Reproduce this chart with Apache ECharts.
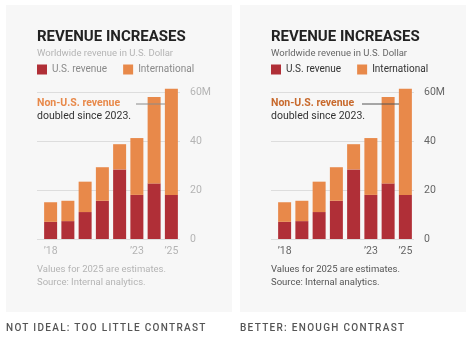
<!DOCTYPE html>
<html>
<head>
<meta charset="utf-8">
<script src="https://cdn.jsdelivr.net/npm/echarts@6/dist/echarts.min.js"></script>
<style>
  html, body { margin: 0; padding: 0; background: #ffffff; }
  #wrap { position: relative; width: 474px; height: 338px; }
  #chart { position: absolute; left: 0; top: 0; width: 474px; height: 338px; }
  .cap { position: absolute; top: 321.5px; font-family: Roboto, sans-serif; font-size: 10px; font-weight: 500; letter-spacing: 1.3px; color: #555; white-space: nowrap; }
</style>
</head>
<body>
<div id="wrap">
  <div id="chart"></div>
  <div class="cap" id="capL" style="left:6px;"></div>
  <div class="cap" id="capR" style="left:240px;"></div>
</div>
<script>
const years = ['2018', '2019', '2020', '2021', '2022', '2023', '2024', '2025'];
const usRevenue = [7, 7.3, 11, 15.6, 28.4, 18, 22.7, 18];
const intlRevenue = [8, 8.3, 12.4, 13.7, 10.3, 23.2, 35.3, 43.3];
const shownYears = ['2018', '2023', '2025'];
const yTicks = [0, 20, 40, 60];
const seriesNames = ['U.S. revenue', 'International'];
const titleText = 'REVENUE INCREASES';
const subtitleText = 'Worldwide revenue in U.S. Dollar';
const noteBold = 'Non-U.S. revenue';
const noteRest = 'doubled since 2023.';
const footText = 'Values for 2025 are estimates.\nSource: Internal analytics.';
const captions = ['NOT IDEAL: TOO LITTLE CONTRAST', 'BETTER: ENOUGH CONTRAST'];

document.getElementById('capL').textContent = captions[0];
document.getElementById('capR').textContent = captions[1];

const FONT = 'Roboto, sans-serif';
const panels = [
  { dx: 0, sub: '#b4b4b4', legend: '#8a8a8a', note: '#e8894a', axis: '#b4b4b4', foot: '#b4b4b4', pointer: '#8a8a8a' },
  { dx: 234, sub: '#666666', legend: '#333333', note: '#c8692c', axis: '#666666', foot: '#555555', pointer: '#555555' }
];

const option = {
  backgroundColor: '#ffffff',
  animation: false,
  title: [], legend: [], grid: [], xAxis: [], yAxis: [], series: [],
  graphic: []
};

panels.forEach((p, i) => {
  const dx = p.dx;
  option.graphic.push({ type: 'rect', z: -100, shape: { x: 6 + dx, y: 5, width: 226, height: 307 }, style: { fill: '#f7f7f7' } });
  option.graphic.push({ type: 'line', z: 100, shape: { x1: (i === 0 ? 136 : 128) + dx, y1: 104, x2: 165 + dx, y2: 104 }, style: { stroke: p.pointer, lineWidth: 1 } });

  option.title.push({ text: titleText, left: 37 + dx, top: 30, padding: 0,
    textStyle: { fontFamily: FONT, fontSize: 15, fontWeight: 'bold', color: '#222222' } });
  option.title.push({ text: subtitleText, left: 37 + dx, top: 48.5, padding: 0,
    textStyle: { fontFamily: FONT, fontSize: 9.5, fontWeight: 'normal', color: p.sub } });
  option.title.push({ text: noteBold, left: 37 + dx, top: 98, padding: 0,
    textStyle: { fontFamily: FONT, fontSize: 10.5, fontWeight: 'bold', color: p.note } });
  option.title.push({ text: noteRest, left: 37 + dx, top: 111, padding: 0,
    textStyle: { fontFamily: FONT, fontSize: 10.5, fontWeight: 'normal', color: '#333333' } });
  option.title.push({ text: footText, left: 37 + dx, top: 263.5, padding: 0,
    textStyle: { fontFamily: FONT, fontSize: 9.5, lineHeight: 13, fontWeight: 'normal', color: p.foot } });

  option.legend.push({ data: seriesNames, left: 37 + dx, top: 64.5, padding: 0, itemWidth: 10, itemHeight: 10,
    icon: 'rect', itemGap: 16, selectedMode: false,
    textStyle: { fontFamily: FONT, fontSize: 10, color: p.legend, padding: [0, 0, 0, 0] } });

  // grid for gridlines + y labels
  option.grid.push({ left: 37 + dx, top: 92, width: 143, height: 147 });
  // grid for bars
  option.grid.push({ left: 42 + dx, top: 92, width: 138, height: 147 });
  const gA = i * 2, gB = i * 2 + 1;

  option.xAxis.push({ type: 'category', gridIndex: gA, data: years, show: false });
  option.yAxis.push({ type: 'value', gridIndex: gA, position: 'right', min: yTicks[0], max: yTicks[yTicks.length - 1], interval: 20,
    axisLine: { show: false }, axisTick: { show: false },
    splitLine: { lineStyle: { color: '#dddddd', width: 1 } },
    axisLabel: { margin: 10, align: 'left', fontFamily: FONT, fontSize: 10.5, color: p.axis,
      formatter: v => v === 60 ? '60M' : String(v) } });

  option.xAxis.push({ type: 'category', gridIndex: gB, data: years,
    axisLine: { show: false }, axisTick: { show: false },
    axisLabel: { margin: 7, fontFamily: FONT, fontSize: 10.5, color: p.axis,
      interval: (idx, v) => shownYears.includes(v),
      formatter: v => '\u2019' + v.slice(2) } });
  option.yAxis.push({ type: 'value', gridIndex: gB, min: yTicks[0], max: yTicks[yTicks.length - 1], interval: 20, show: false });

  option.series.push({ name: seriesNames[0], type: 'bar', stack: 'p' + i, xAxisIndex: gB, yAxisIndex: gB,
    data: usRevenue, barWidth: 13, clip: false, itemStyle: { color: '#b02f37' } });
  option.series.push({ name: seriesNames[1], type: 'bar', stack: 'p' + i, xAxisIndex: gB, yAxisIndex: gB,
    data: intlRevenue, barWidth: 13, clip: false, itemStyle: { color: '#e8894a' } });
});

const chart = echarts.init(document.getElementById('chart'), null, { renderer: 'canvas' });
chart.setOption(option);
</script>
</body>
</html>
